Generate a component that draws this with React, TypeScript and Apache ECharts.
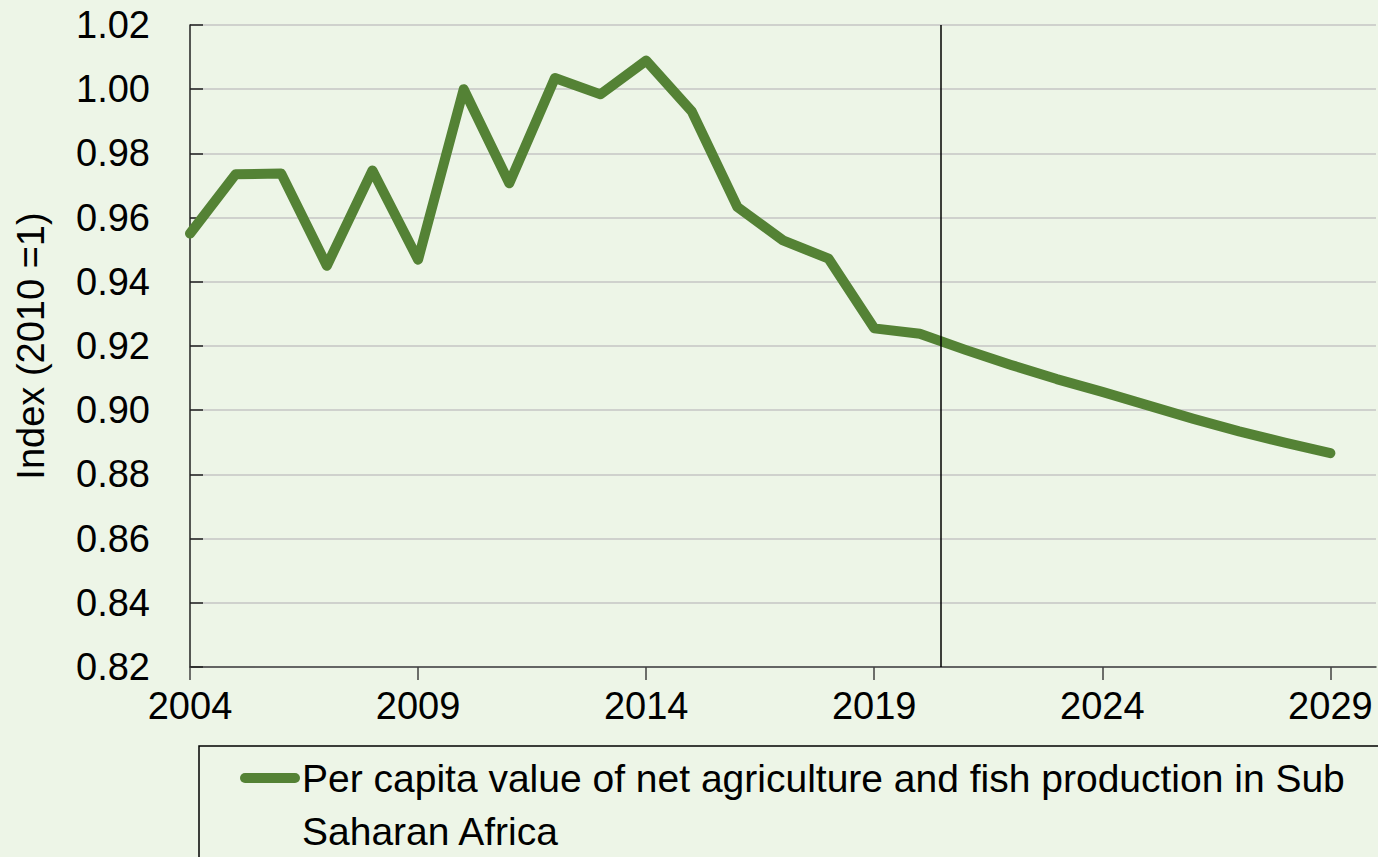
import React, { useEffect, useRef } from "react";
import * as echarts from "echarts";

const years = [2004, 2005, 2006, 2007, 2008, 2009, 2010, 2011, 2012, 2013, 2014, 2015, 2016, 2017, 2018, 2019, 2020, 2021, 2022, 2023, 2024, 2025, 2026, 2027, 2028, 2029];
const values = [0.955, 0.9735, 0.9737, 0.945, 0.9747, 0.9469, 1.0, 0.9707, 1.0035, 0.9984, 1.0089, 0.9931, 0.9633, 0.9529, 0.9472, 0.9255, 0.9238, 0.9188, 0.9141, 0.9097, 0.9057, 0.9015, 0.8973, 0.8934, 0.8899, 0.8866];
const xTickLabels = [2004, 2009, 2014, 2019, 2024, 2029];
const projectionMarker = 2020.45;
const seriesName = "Per capita value of net agriculture and fish production in Sub Saharan Africa";
const legendText = "Per capita value of net agriculture and fish production in Sub\nSaharan Africa";
const yAxisName = "Index (2010 =1)";

const FONT = "'Liberation Sans', Arial, sans-serif";
const GREEN = "#548235";

export default function App() {
  const ref = useRef<HTMLDivElement>(null);
  useEffect(() => {
    if (!ref.current) return;
    const chart = echarts.init(ref.current, null, { renderer: "svg" });
    chart.setOption({
      animation: false,
      backgroundColor: "#EDF5E7",
      textStyle: { fontFamily: FONT },
      grid: { left: 190, right: 2, top: 25, bottom: 190, containLabel: false, outerBoundsMode: "none" },
      xAxis: {
        type: "value",
        min: 2004,
        max: 2030,
        axisLine: { show: true, lineStyle: { color: "#404040", width: 1.5 } },
        axisTick: { show: true, length: 13, inside: false, customValues: xTickLabels, lineStyle: { color: "#404040", width: 1.5 } },
        axisLabel: { customValues: xTickLabels, color: "#000", fontSize: 38, fontFamily: FONT, margin: 20, formatter: (v: number) => String(v) },
        splitLine: { show: false },
      },
      yAxis: {
        type: "value",
        min: 0.82,
        max: 1.02,
        interval: 0.02,
        name: yAxisName,
        nameLocation: "middle",
        nameRotate: 90,
        nameGap: 140,
        nameTextStyle: { color: "#000", fontSize: 38, fontFamily: FONT },
        axisLine: { show: true, lineStyle: { color: "#202020", width: 1.5 } },
        axisTick: { show: true, inside: true, length: 13, lineStyle: { color: "#202020", width: 1.5 } },
        axisLabel: { color: "#000", fontSize: 38, fontFamily: FONT, margin: 40, formatter: (v: number) => v.toFixed(2) },
        splitLine: { show: true, lineStyle: { color: "#C4C4C4", width: 1.5 } },
      },
      series: [
        {
          name: seriesName,
          type: "line",
          data: years.map((y, i) => [y, values[i]]),
          showSymbol: false,
          symbol: "none",
          lineStyle: { color: GREEN, width: 10, cap: "round", join: "round" },
          markLine: {
            silent: true,
            symbol: "none",
            label: { show: false },
            lineStyle: { color: "#000", width: 1.5, type: "solid" },
            data: [{ xAxis: projectionMarker }],
          },
        },
      ],
      graphic: [
        {
          type: "rect",
          shape: { x: 199, y: 746, width: 1300, height: 200 },
          style: { fill: "none", stroke: "#000", lineWidth: 1.5 },
        },
        {
          type: "line",
          shape: { x1: 245, y1: 778, x2: 295, y2: 778 },
          style: { stroke: GREEN, lineWidth: 10, lineCap: "round" },
        },
        {
          type: "text",
          x: 302,
          y: 751.5,
          style: {
            text: legendText,
            font: `39px ${FONT}`,
            fill: "#000",
            lineHeight: 53,
            verticalAlign: "top",
            align: "left",
          },
        },
      ],
    });
    return () => chart.dispose();
  }, []);
  return <div ref={ref} style={{ position: "absolute", left: 0, top: 0, width: 1378, height: 857 }} />;
}
